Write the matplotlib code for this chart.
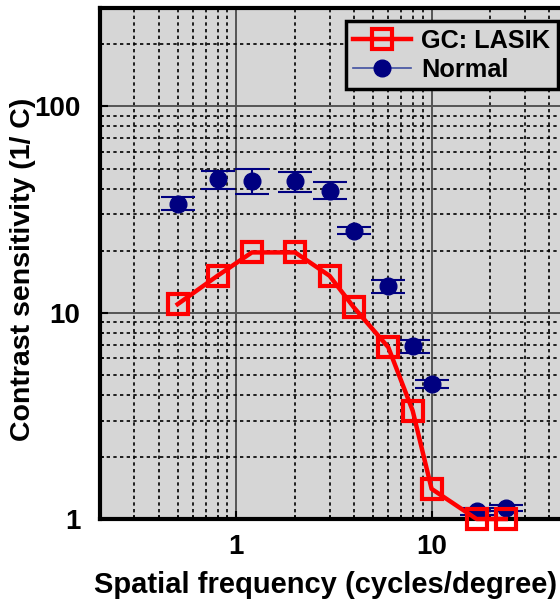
import matplotlib
matplotlib.use("Agg")
import matplotlib.pyplot as plt
from matplotlib.lines import Line2D
from matplotlib.ticker import LogLocator, NullFormatter, FixedLocator, FixedFormatter

plt.rcParams['font.family'] = ['Liberation Sans', 'DejaVu Sans']
plt.rcParams['font.weight'] = 'bold'

# spatial frequencies (cycles/degree)
freq = [0.5, 0.8, 1.2, 2, 3, 4, 6, 8, 10, 17, 24]

# GC: LASIK contrast sensitivity
lasik = [11.0, 15.1, 19.6, 19.6, 15.1, 10.6, 6.8, 3.35, 1.4, 1.0, 1.0]

# Normal contrast sensitivity with error
normal = [33.8, 44.3, 43.7, 43.3, 39.1, 25.0, 13.4, 6.9, 4.5, 1.09, 1.13]
normal_err = [2.5, 4.5, 6.2, 5.0, 3.7, 1.0, 1.0, 0.5, 0.2, 0.04, 0.04]

fig = plt.figure(figsize=(5.6, 6.02), dpi=100)
ax = fig.add_axes([100 / 560, 83 / 602, 468 / 560, 511 / 602])
ax.set_facecolor('#d6d6d6')
ax.set_xscale('log')
ax.set_yscale('log')
ax.set_xlim(0.2, 50)
ax.set_ylim(1, 300)

# grid: solid dark lines at decades, dotted black at minor values
ax.xaxis.set_minor_locator(LogLocator(base=10, subs=range(2, 10)))
ax.yaxis.set_minor_locator(LogLocator(base=10, subs=range(2, 10)))
ax.grid(True, which='major', color='#555555', linestyle='-', linewidth=1.4)
ax.grid(True, which='minor', color='black', linestyle=(0, (2, 2)), linewidth=1.2)
ax.set_axisbelow(True)

ax.xaxis.set_major_locator(FixedLocator([1, 10]))
ax.xaxis.set_major_formatter(FixedFormatter(['1', '10']))
ax.yaxis.set_major_locator(FixedLocator([1, 10, 100]))
ax.yaxis.set_major_formatter(FixedFormatter(['1', '10', '100']))
ax.xaxis.set_minor_formatter(NullFormatter())
ax.yaxis.set_minor_formatter(NullFormatter())
ax.tick_params(which='both', direction='in', color='black', labelsize=20)
ax.tick_params(axis='y', which='major', pad=14)
ax.tick_params(axis='x', which='major', pad=11)
ax.tick_params(which='major', length=6, width=1.5)
ax.tick_params(which='minor', length=3, width=1.2)

for side in ['left', 'bottom', 'top']:
    ax.spines[side].set_linewidth(3)
    ax.spines[side].set_color('black')
ax.spines['right'].set_visible(False)

ax.errorbar(freq, normal, yerr=normal_err, fmt='o', color='navy', markersize=12,
            ecolor='navy', elinewidth=1.5, capsize=12, capthick=1.5, clip_on=False, zorder=3)
ax.plot(freq, lasik, color='red', linewidth=3.2, marker='s', markersize=15,
        markerfacecolor='none', markeredgecolor='red', markeredgewidth=3, clip_on=False, zorder=4)

ax.set_xlabel('Spatial frequency (cycles/degree)', fontsize=21, fontweight='bold')
ax.set_ylabel('Contrast sensitivity (1/ C)', fontsize=20.5, fontweight='bold')
ax.xaxis.set_label_coords(0.483, -0.102)
ax.yaxis.set_label_coords(-0.137, 0.489)

handles = [
    Line2D([], [], color='red', linewidth=3.2, marker='s', markersize=15,
           markerfacecolor='none', markeredgecolor='red', markeredgewidth=3),
    Line2D([], [], color='#4050a0', linewidth=1.2, marker='o', markersize=12,
           markerfacecolor='navy', markeredgecolor='navy'),
]
leg = fig.legend(handles, ['GC: LASIK', 'Normal'], loc='upper right',
                 bbox_to_anchor=(558 / 560, 1 - 21 / 602), borderaxespad=0, fontsize=18.2,
                 frameon=True, fancybox=False, facecolor='#d6d6d6', edgecolor='black',
                 handlelength=2.3, borderpad=0.3, labelspacing=0.2, handletextpad=0.4)
leg.get_frame().set_linewidth(2.5)
leg.get_frame().set_alpha(None)
for t in leg.get_texts():
    t.set_fontweight('bold')

fig.savefig('out.png', dpi=100)
